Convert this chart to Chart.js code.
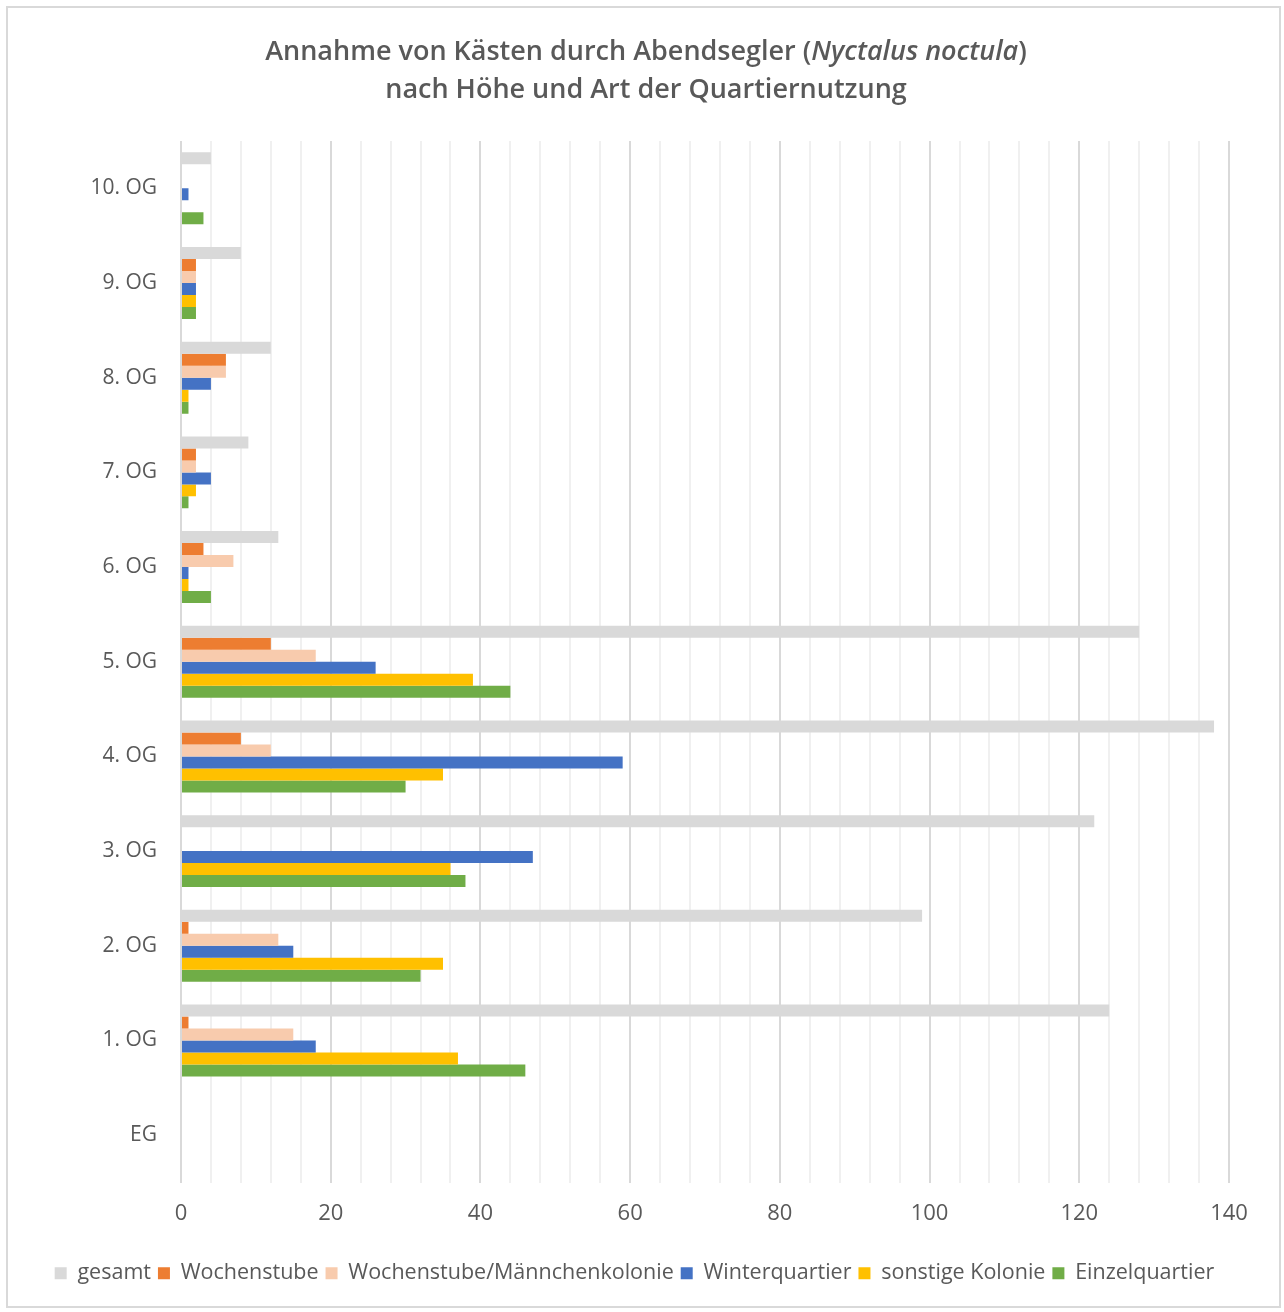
<!DOCTYPE html>
<html lang="de">
<head>
<meta charset="UTF-8">
<title>Abendsegler Kästen</title>
<script src="https://cdn.jsdelivr.net/npm/chart.js"></script>
<style>
    html, body { margin: 0; padding: 0; background: #ffffff; }
    .janela { position: absolute; left: 0; top: 0; width: 1284px; height: 1312px; }
</style>
</head>
<body>
<div class="janela">
    <canvas id="grafico" width="1284" height="1312"></canvas>
</div>
<script>
    // Stockwerke, von oben nach unten
    const etagen = ['10. OG', '9. OG', '8. OG', '7. OG', '6. OG', '5. OG', '4. OG', '3. OG', '2. OG', '1. OG', 'EG'];

    const gesamt          = [4, 8, 12, 9, 13, 128, 138, 122, 99, 124, 0];
    const wochenstube     = [0, 2, 6, 2, 3, 12, 8, 0, 1, 1, 0];
    const wsMaennchen     = [0, 2, 6, 2, 7, 18, 12, 0, 13, 15, 0];
    const winterquartier  = [1, 2, 4, 4, 1, 26, 59, 47, 15, 18, 0];
    const sonstigeKolonie = [0, 2, 1, 2, 1, 39, 35, 36, 35, 37, 0];
    const einzelquartier  = [3, 2, 1, 1, 4, 44, 30, 38, 32, 46, 0];

    const xTicks = [0, 20, 40, 60, 80, 100, 120, 140];

    const corTexto = '#595959';
    const fonte = "'Open Sans', 'Noto Sans', sans-serif";

    // titulo desenhado a mao por causa da parte em italico
    const tituloPlugin = {
        id: 'titulo',
        beforeDraw(chart) {
            const ctx = chart.ctx;
            ctx.save();
            ctx.fillStyle = '#ffffff';
            ctx.fillRect(0, 0, chart.width, chart.height);
            ctx.strokeStyle = '#d9d9d9';
            ctx.lineWidth = 2;
            ctx.strokeRect(7, 7, 1273, 1300);
            ctx.restore();
        },
        afterDraw(chart) {
            const ctx = chart.ctx;
            ctx.save();
            ctx.fillStyle = corTexto;
            ctx.textBaseline = 'middle';
            const bold = "600 27px " + fonte;
            const boldItalic = "italic 600 27px " + fonte;
            const partes = [
                ['Annahme von Kästen durch Abendsegler (', bold],
                ['Nyctalus noctula', boldItalic],
                [')', bold]
            ];
            let total = 0;
            partes.forEach(p => { ctx.font = p[1]; total += ctx.measureText(p[0]).width; });
            let x = 646 - total / 2;
            partes.forEach(p => {
                ctx.font = p[1];
                ctx.textAlign = 'left';
                ctx.fillText(p[0], x, 52);
                x += ctx.measureText(p[0]).width;
            });
            ctx.font = bold;
            ctx.textAlign = 'center';
            ctx.fillText('nach Höhe und Art der Quartiernutzung', 646, 90);
            ctx.restore();
        }
    };

    const dados = {
        labels: etagen,
        datasets: [
            { label: 'gesamt', data: gesamt, backgroundColor: '#d9d9d9' },
            { label: 'Wochenstube', data: wochenstube, backgroundColor: '#ed7d31' },
            { label: 'Wochenstube/Männchenkolonie', data: wsMaennchen, backgroundColor: '#f8cbad' },
            { label: 'Winterquartier', data: winterquartier, backgroundColor: '#4472c4' },
            { label: 'sonstige Kolonie', data: sonstigeKolonie, backgroundColor: '#ffc000' },
            { label: 'Einzelquartier', data: einzelquartier, backgroundColor: '#70ad47' }
        ]
    };

    const config = {
        type: 'bar',
        data: dados,
        options: {
            indexAxis: 'y',
            responsive: false,
            animation: false,
            categoryPercentage: 0.76,
            barPercentage: 1.0,
            layout: { padding: { top: 141, right: 55, left: 40, bottom: 18 } },
            scales: {
                x: {
                    min: 0,
                    max: 140,
                    afterFit: function (scale) { scale.height = 73; },
                    ticks: {
                        stepSize: 4,
                        autoSkip: false,
                        maxRotation: 0,
                        color: corTexto,
                        font: { family: fonte, size: 22 },
                        padding: 18,
                        callback: function (v) { return xTicks.includes(v) ? v : ''; }
                    },
                    grid: {
                        drawTicks: false,
                        lineWidth: 2,
                        color: function (c) {
                            return xTicks.includes(c.tick.value) ? '#d9d9d9' : '#f0f0f0';
                        }
                    },
                    border: { display: false }
                },
                y: {
                    afterFit: function (scale) { scale.width = 141; },
                    ticks: {
                        color: corTexto,
                        font: { family: fonte, size: 21 },
                        padding: 16
                    },
                    grid: { display: false },
                    border: { display: false }
                }
            },
            plugins: {
                legend: {
                    position: 'bottom',
                    labels: {
                        boxWidth: 12,
                        boxHeight: 12,
                        color: corTexto,
                        font: { family: fonte, size: 21.5 },
                        padding: 7
                    }
                },
                tooltip: { enabled: false }
            }
        },
        plugins: [tituloPlugin]
    };

    new Chart(document.getElementById('grafico'), config);
</script>
</body>
</html>
